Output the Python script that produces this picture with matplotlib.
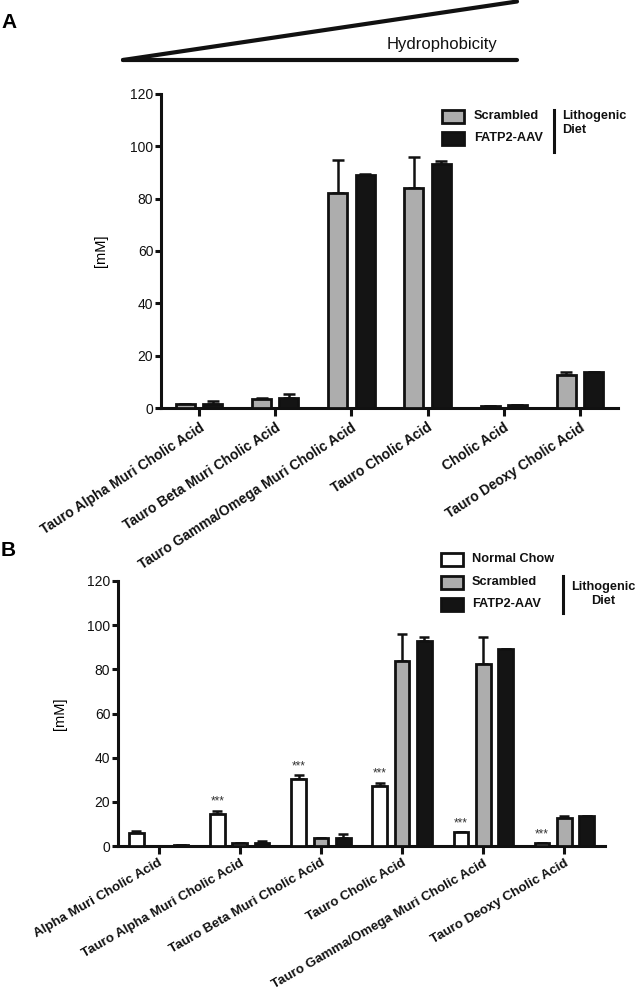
import matplotlib
matplotlib.use('Agg')
import matplotlib.pyplot as plt
import numpy as np
from matplotlib.patches import Rectangle
from matplotlib.lines import Line2D

plt.rcParams['font.family'] = ['Liberation Sans', 'DejaVu Sans']

# ---------------- data ----------------
cats_a = ['Tauro Alpha Muri Cholic Acid', 'Tauro Beta Muri Cholic Acid',
          'Tauro Gamma/Omega Muri Cholic Acid', 'Tauro Cholic Acid',
          'Cholic Acid', 'Tauro Deoxy Cholic Acid']
scr_a = [1.4, 3.6, 82.2, 84.0, 0.8, 12.6]
scr_a_err = [0.0, 0.3, 12.6, 11.8, 0.0, 1.1]
fatp_a = [1.4, 3.8, 89.1, 93.4, 1.3, 13.6]
fatp_a_err = [1.3, 1.7, 0.2, 1.1, 0.0, 0.1]

cats_b = ['Alpha Muri Cholic Acid', 'Tauro Alpha Muri Cholic Acid',
          'Tauro Beta Muri Cholic Acid', 'Tauro Cholic Acid',
          'Tauro Gamma/Omega Muri Cholic Acid', 'Tauro Deoxy Cholic Acid']
nc_b = [6.0, 14.5, 30.5, 27.3, 6.2, 1.2]
nc_b_err = [0.8, 1.5, 1.7, 1.4, 0.2, 0.0]
nc_b_sig = ['', '***', '***', '***', '***', '***']
scr_b = [0.0, 1.2, 3.5, 84.0, 82.4, 12.5]
scr_b_err = [0.0, 0.0, 0.3, 11.8, 12.4, 1.1]
fatp_b = [0.4, 1.2, 3.8, 93.0, 89.0, 13.4]
fatp_b_err = [0.0, 1.2, 1.6, 1.5, 0.4, 0.2]

yticks = [0, 20, 40, 60, 80, 100, 120]

GRAY = '#adadad'
BLACK = '#141414'

W, H = 638, 1001
fig = plt.figure(figsize=(W / 100, H / 100), dpi=100)


def fx(px):
    return px / W


def fy(py):
    return 1 - py / H


def make_axes(left, right, top, bottom):
    ax = fig.add_axes([fx(left), fy(bottom), (right - left) / W, (bottom - top) / H])
    for s in ['top', 'right']:
        ax.spines[s].set_visible(False)
    for s in ['left', 'bottom']:
        ax.spines[s].set_linewidth(2.2)
        ax.spines[s].set_color('#111111')
    ax.set_ylim(0, 120)
    ax.set_yticks(yticks)
    ax.tick_params(axis='y', direction='out', length=4, width=2.2, labelsize=10,
                   pad=1.5, colors='#111111')
    ax.tick_params(axis='x', direction='out', length=6, width=2.2, pad=3,
                   colors='#111111')
    ax.set_xlim(-0.5, 5.5)
    return ax


def draw_bars(ax, x, vals, errs, face, width, capsize):
    ax.bar(x, vals, width=width, color=face, edgecolor='#111111', linewidth=2.0, zorder=3)
    ax.errorbar(x, vals, yerr=[np.zeros(len(vals)), errs], fmt='none', ecolor='#111111',
                elinewidth=1.8, capsize=capsize, capthick=1.8, zorder=2)


# ---------------- panel A ----------------
axA = make_axes(161, 618, 94, 408)
xa = np.arange(len(cats_a))
wa = 0.25
draw_bars(axA, xa - 0.18, scr_a, scr_a_err, GRAY, wa, 4)
draw_bars(axA, xa + 0.18, fatp_a, fatp_a_err, BLACK, wa, 4)
axA.set_xticks(xa)
axA.set_xticklabels(cats_a, rotation=33, ha='right', rotation_mode='anchor',
                    fontsize=10, fontweight='bold')
axA.set_ylabel('[mM]', fontsize=10.5)
axA.yaxis.set_label_coords(-0.116, 0.5)

# ---------------- panel B ----------------
axB = make_axes(118, 605, 581, 846)
xb = np.arange(len(cats_b))
wb = 0.18
off = 0.275
draw_bars(axB, xb - off, nc_b, nc_b_err, 'white', wb, 3.5)
draw_bars(axB, xb, scr_b, scr_b_err, GRAY, wb, 3.5)
draw_bars(axB, xb + off, fatp_b, fatp_b_err, BLACK, wb, 3.5)
for xi, v, e, s in zip(xb - off, nc_b, nc_b_err, nc_b_sig):
    if s:
        axB.annotate(s, (xi, v + e), xytext=(0, 2), textcoords='offset points',
                     ha='center', va='bottom', fontsize=8.5, color='#333333')
axB.set_xticks(xb)
axB.set_xticklabels(cats_b, rotation=30, ha='right', rotation_mode='anchor',
                    fontsize=9.6, fontweight='bold')
axB.tick_params(axis='x', pad=2)
axB.set_ylabel('[mM]', fontsize=10.5)
axB.yaxis.set_label_coords(-0.104, 0.5)

# ---------------- hydrophobicity wedge ----------------
fig.add_artist(Line2D([fx(123), fx(517)], [fy(60), fy(60)], transform=fig.transFigure,
                      lw=3.0, color='#111111', solid_capstyle='round'))
fig.add_artist(Line2D([fx(123), fx(517)], [fy(60), fy(1.5)], transform=fig.transFigure,
                      lw=3.0, color='#111111', solid_capstyle='round'))
fig.text(fx(497), fy(45), 'Hydrophobicity', ha='right', va='center', fontsize=12,
         color='#111111')

# panel letters
fig.text(fx(1), fy(22), 'A', ha='left', va='center', fontsize=15, fontweight='bold')
fig.text(fx(1), fy(550), 'B', ha='left', va='center', fontsize=15, fontweight='bold')


# ---------------- legends ----------------
def legend_box(x, ycenter, face):
    fig.add_artist(Rectangle((fx(x), fy(ycenter + 6.5)), 22 / W, 13 / H,
                             transform=fig.transFigure, facecolor=face,
                             edgecolor='#111111', lw=2.0))


def legend_text(x, y, s, ha='left'):
    fig.text(fx(x), fy(y), s, ha=ha, va='center', fontsize=9.2, fontweight='bold',
             color='#111111')


# A
legend_box(442, 116, GRAY)
legend_box(442, 138, BLACK)
legend_text(474, 116, 'Scrambled')
legend_text(474, 138, 'FATP2-AAV')
fig.add_artist(Line2D([fx(554), fx(554)], [fy(110), fy(152)], transform=fig.transFigure,
                      lw=2.2, color='#111111'))
legend_text(562, 116, 'Lithogenic')
legend_text(562, 130, 'Diet')

# B
legend_box(441, 559, 'white')
legend_box(441, 582, GRAY)
legend_box(441, 604, BLACK)
legend_text(472, 559, 'Normal Chow')
legend_text(472, 582, 'Scrambled')
legend_text(472, 604, 'FATP2-AAV')
fig.add_artist(Line2D([fx(563), fx(563)], [fy(576), fy(613)], transform=fig.transFigure,
                      lw=2.2, color='#111111'))
legend_text(603, 587, 'Lithogenic', ha='center')
legend_text(603, 601, 'Diet', ha='center')

fig.savefig('out.png', dpi=100, facecolor='white')
